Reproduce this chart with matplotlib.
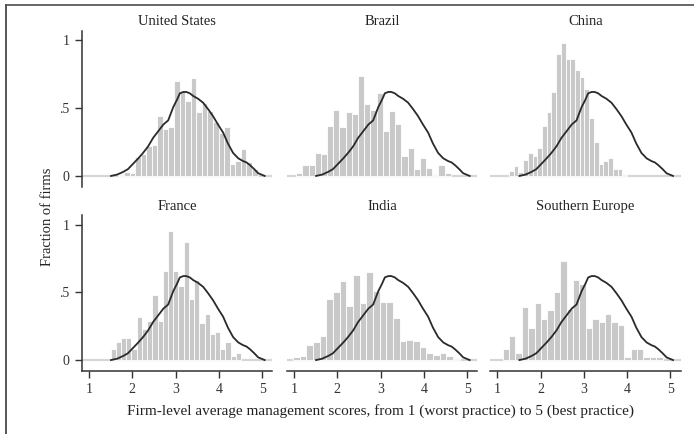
import numpy as np
import matplotlib
matplotlib.use("Agg")
import matplotlib.pyplot as plt
from matplotlib.lines import Line2D

plt.rcParams['font.family'] = ['Liberation Serif', 'DejaVu Serif']

# panel titles, in grid order
countries = ['United States', 'Brazil', 'China', 'France', 'India', 'Southern Europe']

# histogram bars: first bin edge, bin width and bar heights (fraction of firms)
us_start, us_width = 1.68, 0.1286
us_heights = [0.01, 0.03, 0.02, 0.14, 0.16, 0.22, 0.23, 0.44, 0.35, 0.36, 0.70, 0.63, 0.55,
              0.72, 0.47, 0.54, 0.48, 0.40, 0.32, 0.36, 0.09, 0.11, 0.20, 0.10, 0.05]

brazil_start, brazil_width = 1.05, 0.143
brazil_heights = [0.02, 0.08, 0.08, 0.17, 0.16, 0.37, 0.49, 0.36, 0.47, 0.46, 0.74, 0.53, 0.49,
                  0.61, 0.33, 0.48, 0.38, 0.15, 0.21, 0.05, 0.13, 0.06, 0.01, 0.08, 0.02]

china_start, china_width = 1.27, 0.109
china_heights = [0.04, 0.07, 0.03, 0.12, 0.17, 0.15, 0.21, 0.37, 0.47, 0.62, 0.90, 0.98, 0.86,
                 0.86, 0.78, 0.73, 0.64, 0.43, 0.25, 0.09, 0.11, 0.13, 0.05, 0.05, 0.01]

france_start, france_width = 1.50, 0.1206
france_heights = [0.08, 0.13, 0.16, 0.16, 0.08, 0.32, 0.23, 0.29, 0.48, 0.29, 0.66, 0.95, 0.66,
                  0.55, 0.87, 0.45, 0.59, 0.27, 0.34, 0.19, 0.21, 0.08, 0.13, 0.03, 0.05]

india_start, india_width = 0.98, 0.154
india_heights = [0.02, 0.03, 0.11, 0.13, 0.18, 0.45, 0.50, 0.58, 0.40, 0.63, 0.42, 0.65, 0.51,
                 0.43, 0.43, 0.31, 0.14, 0.15, 0.14, 0.10, 0.05, 0.04, 0.05, 0.03, 0.01]

seur_start, seur_width = 1.12, 0.148
seur_heights = [0.08, 0.18, 0.05, 0.39, 0.24, 0.42, 0.30, 0.37, 0.50, 0.73, 0.38, 0.59, 0.56,
                0.24, 0.30, 0.28, 0.34, 0.28, 0.26, 0.02, 0.08, 0.08, 0.02, 0.02, 0.02]

# US kernel density, drawn in every panel
kde_x = [1.51, 1.65, 1.79, 1.90, 2.02, 2.14, 2.25, 2.37, 2.48, 2.60, 2.72, 2.83, 2.95, 3.03,
         3.10, 3.18, 3.25, 3.33, 3.41, 3.52, 3.64, 3.76, 3.87, 3.98, 4.10, 4.21, 4.33, 4.45,
         4.56, 4.64, 4.72, 4.82, 4.91, 5.06]
kde_y = [0.00, 0.01, 0.03, 0.05, 0.09, 0.13, 0.17, 0.22, 0.28, 0.33, 0.38, 0.41, 0.51, 0.56,
         0.61, 0.62, 0.62, 0.61, 0.59, 0.57, 0.54, 0.49, 0.44, 0.38, 0.32, 0.24, 0.17, 0.13,
         0.11, 0.10, 0.08, 0.05, 0.02, 0.00]

bars = [(us_start, us_width, us_heights), (brazil_start, brazil_width, brazil_heights),
        (china_start, china_width, china_heights), (france_start, france_width, france_heights),
        (india_start, india_width, india_heights), (seur_start, seur_width, seur_heights)]

fig = plt.figure(figsize=(6.94, 4.34), dpi=100)
lefts = [0.1176, 0.413, 0.706]
bottoms = [0.5696, 0.1454]
w, h = 0.275, 0.359

for i, (name, (start, width, heights)) in enumerate(zip(countries, bars)):
    row, col = divmod(i, 3)
    ax = fig.add_axes([lefts[col], bottoms[row], w, h])
    x = start + width * np.arange(len(heights))
    ax.bar(x, heights, width=width, align='edge', color='#c9c9c9',
           edgecolor='white', linewidth=0.6, zorder=2)
    ax.axhline(0, color='#d6d6d6', lw=1.6, zorder=1)
    ax.plot(kde_x, kde_y, color='#2a2a2a', lw=1.3, zorder=3)
    ax.set_xlim(0.83, 5.24)
    ax.set_ylim(-0.08, 1.07)
    ax.set_title(name, fontsize=10.5, pad=4, color='#222222')
    for s in ['top', 'right']:
        ax.spines[s].set_visible(False)
    ax.spines['left'].set_color('#333333')
    ax.spines['bottom'].set_color('#333333')
    ax.spines['left'].set_linewidth(1.1)
    ax.spines['bottom'].set_linewidth(1.1)
    ax.tick_params(colors='#333333', labelsize=10, length=5, width=1.0, direction='out')
    ax.set_xticks([1, 2, 3, 4, 5])
    ax.set_yticks([0, 0.5, 1])
    if col == 0:
        ax.set_yticklabels(['0', '.5', '1'])
    else:
        ax.spines['left'].set_visible(False)
        ax.tick_params(axis='y', left=False, labelleft=False)
    if row == 0:
        ax.spines['bottom'].set_visible(False)
        ax.tick_params(axis='x', bottom=False, labelbottom=False)
    else:
        ax.set_xticklabels(['1', '2', '3', '4', '5'])
    ax.set_facecolor('none')

fig.text(0.068, 0.50, 'Fraction of firms', rotation=90, ha='center', va='center',
         fontsize=10.5, color='#222222')
fig.text(0.548, 0.052, 'Firm-level average management scores, from 1 (worst practice) to 5 (best practice)',
         ha='center', va='center', fontsize=11, color='#222222')

# scanned page frame: top and left edges
fig.add_artist(Line2D([0.0086, 1.0], [0.9885, 0.9885], color='#666666', lw=1.4))
fig.add_artist(Line2D([0.0086, 0.0086], [0.0, 0.9885], color='#555555', lw=1.4))

fig.savefig('out.png', dpi=100)
